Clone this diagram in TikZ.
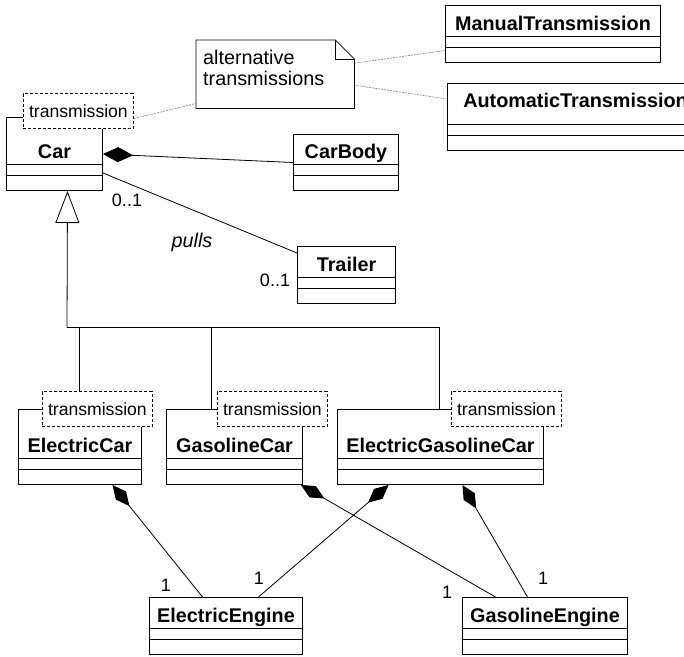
\documentclass[tikz,border=0pt]{standalone}
\usepackage{fontspec}
\setmainfont{Liberation Sans}
\usetikzlibrary{shapes.multipart,arrows.meta}

% name row height, depth under the name, name
\newcommand{\clsparts}[3]{\rule[-#2]{0pt}{#1}#3\nodepart{two}\rule{0pt}{10pt}\nodepart{three}\rule{0pt}{14pt}}

\tikzset{
  cls/.style={rectangle split, rectangle split parts=3, draw, line width=1pt,
    inner xsep=2pt, inner ysep=0pt, anchor=north west,
    font=\bfseries\fontsize{19.8}{21}\selectfont},
  tmpl/.style={draw, dash pattern=on 3pt off 2pt, line width=0.8pt, fill=white,
    minimum width=110pt, minimum height=35pt, inner sep=0pt, anchor=south west,
    font=\fontsize{17.6}{19}\selectfont},
  comp/.style={{Diamond[length=27pt,width=13pt]}-, line width=0.8pt},
  gen/.style={-{Triangle[open,length=32pt,width=24pt]}, line width=0.8pt},
  assoc/.style={line width=0.8pt},
  noteline/.style={gray, dash pattern=on 2pt off 1pt, line width=0.6pt},
  mult/.style={font=\fontsize{18}{20}\selectfont, inner sep=0pt},
}

\begin{document}
\begin{tikzpicture}[x=1pt,y=-1pt]
\useasboundingbox (0,0) rectangle (684,656);
\clip (0,0) rectangle (684,656);

% classes
\node[cls, minimum width=96pt] (car) at (6,117) {\clsparts{46pt}{6pt}{Car}};
\node[cls, minimum width=105pt] (carbody) at (293,134) {\clsparts{29pt}{6pt}{CarBody}};
\node[cls, minimum width=98pt] (trailer) at (297,246) {\clsparts{30pt}{6pt}{Trailer}};
\node[cls, minimum width=215pt] (manual) at (445,5) {\clsparts{30pt}{6pt}{ManualTransmission}};
\node[cls, minimum width=256pt] (auto) at (447,83) {\clsparts{40pt}{17pt}{AutomaticTransmission}};
\node[cls, minimum width=123pt] (ecar) at (18,409) {\clsparts{48pt}{6pt}{ElectricCar}};
\node[cls, minimum width=136pt] (gcar) at (166,409) {\clsparts{48pt}{6pt}{GasolineCar}};
\node[cls, minimum width=206pt] (egcar) at (337,409) {\clsparts{48pt}{6pt}{ElectricGasolineCar}};
\node[cls, minimum width=153pt] (eeng) at (149,597) {\clsparts{30pt}{6pt}{ElectricEngine}};
\node[cls, minimum width=165pt] (geng) at (462,597) {\clsparts{30pt}{6pt}{GasolineEngine}};

% template parameters
\node[tmpl] (cartmpl) at (23,129) {transmission};
\node[tmpl] (ectmpl) at (42,427) {transmission};
\node[tmpl] (gctmpl) at (217,427) {transmission};
\node[tmpl] (egctmpl) at (451,427) {transmission};

% note
\node[minimum width=158pt, minimum height=68pt, inner sep=0pt, anchor=north west] (note) at (196,40) {};
\draw[line width=0.8pt] (note.north west) -- ([xshift=-19pt]note.north east)
  -- ([yshift=-19pt]note.north east) |- (note.south west) -- cycle;
\draw[line width=0.8pt] ([xshift=-19pt]note.north east) |- ([yshift=-19pt]note.north east);
\node[anchor=north west, align=left, inner sep=0pt, font=\fontsize{19.8}{21}\selectfont]
  (notetext) at ([shift={(7pt,-9.5pt)}]note.north west) {alternative\\transmissions};
\draw[noteline] ([yshift=11pt]note.east) -- ([yshift=-16.5pt]manual.west);
\draw[noteline] ([yshift=-11pt]note.east) -- ([yshift=18pt]auto.west);
\draw[noteline] ([yshift=-7.5pt]cartmpl.east) -- ([yshift=5pt]note.south west);

% Car associations
\draw[assoc, {Diamond[length=30pt,width=15pt]}-] (car.east) -- (carbody.west);
\draw[assoc] ([yshift=18pt]car.south east) -- ([yshift=-7pt]trailer.north west);
\node[mult] (carmult) at (127,200) {0..1};
\node[mult, font=\itshape\fontsize{19.8}{21}\selectfont] (pulls) at (192,242) {pulls};
\node[mult] (trailermult) at (275,280) {0..1};

% generalization
\coordinate (hub) at (67,327);
\draw[assoc] ([xshift=-18pt]ectmpl.north) |- (hub);
\draw[assoc] ([xshift=-23pt]gcar.north) |- (hub);
\draw[assoc] ([xshift=-1pt]egcar.north) |- (hub);
\draw[gen] (hub) -- ([xshift=13pt]car.south);

% engines
\draw[comp] ([xshift=32.5pt]ecar.south) -- ([xshift=-23.5pt]eeng.north);
\draw[comp] ([xshift=-2pt]gcar.south east) -- ([xshift=-49.5pt]geng.north);
\draw[comp] ([xshift=-52pt]egcar.south) -- ([xshift=32.5pt]eeng.north);
\draw[comp] ([xshift=22pt]egcar.south) -- ([xshift=-17.5pt]geng.north);
\node[mult] (m1) at (166,585) {1};
\node[mult] (m2) at (259,578) {1};
\node[mult] (m3) at (447,592) {1};
\node[mult] (m4) at (543,578) {1};
\end{tikzpicture}
\end{document}
